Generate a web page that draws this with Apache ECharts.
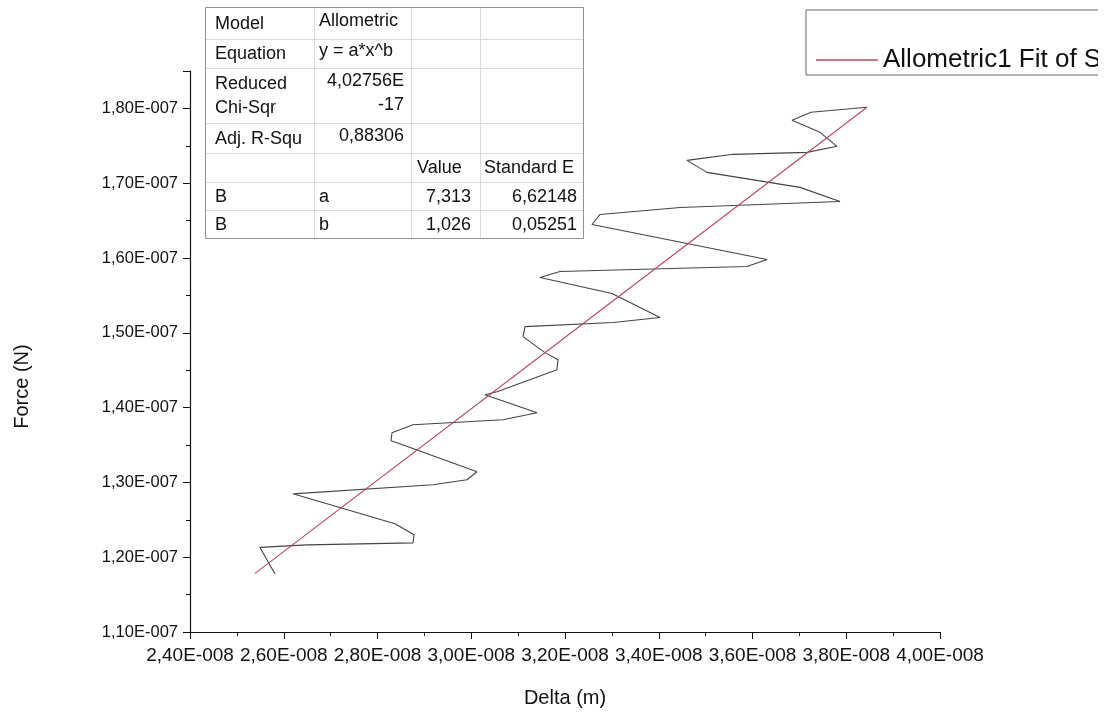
<!DOCTYPE html>
<html>
<head>
<meta charset="utf-8">
<script src="https://cdn.jsdelivr.net/npm/echarts@6/dist/echarts.min.js"></script>
<style>
html,body{margin:0;padding:0;background:#fff;}
#c{width:1107px;height:716px;}
</style>
</head>
<body>
<div id="c"></div>
<script>
// ---- data ----
const deltaM = [2.5813e-8,2.5493e-8,2.6496e-8,2.8757e-8,2.8779e-8,2.8373e-8,2.6197e-8,2.9184e-8,2.9909e-8,3.0123e-8,
  2.8416e-8,2.8288e-8,2.8309e-8,2.8757e-8,3.0677e-8,3.1403e-8,3.0293e-8,3.0549e-8,3.1829e-8,3.1851e-8,
  3.1573e-8,3.1104e-8,3.1147e-8,3.3024e-8,3.4027e-8,3.3003e-8,3.1467e-8,3.1893e-8,3.5883e-8,3.6309e-8,
  3.2576e-8,3.2747e-8,3.4453e-8,3.7867e-8,3.7013e-8,3.5029e-8,3.4603e-8,3.5584e-8,3.7163e-8,3.7803e-8,
  3.7440e-8,3.6843e-8,3.7248e-8,3.8443e-8];
const forceN = [1.1776e-7,1.2131e-7,1.2165e-7,1.2191e-7,1.2299e-7,1.2446e-7,1.2847e-7,1.2968e-7,1.3035e-7,1.3142e-7,
  1.3530e-7,1.3557e-7,1.3664e-7,1.3771e-7,1.3838e-7,1.3932e-7,1.4173e-7,1.4213e-7,1.4507e-7,1.4641e-7,
  1.4735e-7,1.4949e-7,1.5083e-7,1.5137e-7,1.5204e-7,1.5525e-7,1.5739e-7,1.5819e-7,1.5886e-7,1.5980e-7,
  1.6448e-7,1.6582e-7,1.6676e-7,1.6756e-7,1.6944e-7,1.7145e-7,1.7305e-7,1.7386e-7,1.7412e-7,1.7493e-7,
  1.7680e-7,1.7841e-7,1.7948e-7,1.8015e-7];
const fitDelta = [2.5387e-8, 3.19e-8, 3.8443e-8];
const fitForce = [1.1783e-7, 1.4890e-7, 1.8015e-7];
const fitName = 'Allometric1 Fit of Sheet1 B';

const xTickLabels = ['2,40E-008','2,60E-008','2,80E-008','3,00E-008','3,20E-008','3,40E-008','3,60E-008','3,80E-008','4,00E-008'];
const yTickLabels = ['1,10E-007','1,20E-007','1,30E-007','1,40E-007','1,50E-007','1,60E-007','1,70E-007','1,80E-007'];
const xMin = 2.4e-8, xMax = 4.0e-8, xStep = 2e-9;
const yMin = 1.1e-7, yMax = 1.85e-7, yStep = 1e-8;

const tableRows = [
  ['Model','Allometric','',''],
  ['Equation','y = a*x^b','',''],
  ['Reduced\nChi-Sqr','4,02756E\n-17','',''],
  ['Adj. R-Squ','0,88306','',''],
  ['','','Value','Standard E'],
  ['B','a','7,313','6,62148'],
  ['B','b','1,026','0,05251']
];

// ---- chart ----
const chart = echarts.init(document.getElementById('c'), null, {renderer:'canvas'});
const FONT = 'Liberation Sans, Arial, sans-serif';

function lab(arr, min, step){
  return function(v){
    const i = Math.round((v - min)/step);
    if (Math.abs(v - (min + i*step)) > step*1e-3) return '';
    return arr[i] || '';
  };
}

// table graphics
const colX = [205, 314, 411, 480, 583];
const rowY = [7, 39, 68, 123, 153, 182, 210, 238];
const g = [];
g.push({type:'rect', shape:{x:colX[0]+0.5, y:rowY[0]+0.5, width:colX[4]-colX[0], height:rowY[7]-rowY[0]},
  style:{fill:'#fff', stroke:'#909090', lineWidth:1}, z:50});
for (let i=1;i<rowY.length-1;i++){
  g.push({type:'line', shape:{x1:colX[0]+1,y1:rowY[i]+0.5,x2:colX[4],y2:rowY[i]+0.5}, style:{stroke:'#dcdcdc',lineWidth:1}, z:51});
}
for (let j=1;j<colX.length-1;j++){
  g.push({type:'line', shape:{x1:colX[j]+0.5,y1:rowY[0]+1,x2:colX[j]+0.5,y2:rowY[7]}, style:{stroke:'#dcdcdc',lineWidth:1}, z:51});
}
tableRows.forEach((row, r)=>{
  const yc = (rowY[r]+rowY[r+1])/2;
  row.forEach((txt, c)=>{
    if (!txt) return;
    let align = 'left', x = colX[c] + (c===0 ? 10 : 5), dy = 1;
    if (c===1 && r<=3) dy = -2;
    if (c===1 && r>=2 && r<=3) { align='right'; x = colX[2]-7; }
    if (c===2) { if (r===4){align='left'; x=colX[2]+6;} else {align='right'; x=colX[3]-9;} }
    if (c===3) { if (r===4){align='left'; x=colX[3]+4;} else {align='right'; x=colX[4]-6;} }
    g.push({type:'text', x:x, y:yc + dy, z:52,
      style:{text:txt, fill:'#111', font:'18px '+FONT, align:align, verticalAlign:'middle', lineHeight:24}});
  });
});
// clip the right edge of the legend box like the reference
g.push({type:'rect', shape:{x:1098, y:0, width:20, height:90}, style:{fill:'#fff'}, z:100});

const option = {
  backgroundColor:'#fff',
  animation:false,
  textStyle:{fontFamily:FONT},
  grid:{left:190, right:167, top:71, bottom:84, containLabel:false, outerBoundsMode:'none'},
  legend:{
    data:[fitName], left:806, top:10, orient:'horizontal',
    padding:[37,40,2,10], borderColor:'#666', borderWidth:1, backgroundColor:'#fff',
    icon:'rect', itemWidth:62, itemHeight:1.5, itemGap:10,
    textStyle:{fontSize:26, lineHeight:26, color:'#111', fontFamily:FONT},
    selectedMode:false
  },
  xAxis:{
    type:'value', min:xMin, max:xMax, interval:xStep,
    name:'Delta (m)', nameLocation:'middle', nameGap:56,
    nameTextStyle:{fontSize:20, color:'#111', fontFamily:FONT},
    axisLine:{show:true, onZero:false, lineStyle:{color:'#111', width:1.2}},
    axisTick:{show:true, inside:false, length:7, lineStyle:{color:'#111'}},
    minorTick:{show:true, splitNumber:2, length:4, lineStyle:{color:'#111'}},
    splitLine:{show:false},
    axisLabel:{formatter:lab(xTickLabels,xMin,xStep), fontSize:19, color:'#111', margin:14, interval:0, hideOverlap:false, showMinLabel:true, showMaxLabel:true, fontFamily:FONT}
  },
  yAxis:{
    type:'value', min:yMin, max:yMax, interval:yStep,
    name:'Force (N)', nameLocation:'middle', nameGap:158, nameRotate:90,
    nameTextStyle:{fontSize:20, color:'#111', fontFamily:FONT, padding:[0,70,0,0]},
    axisLine:{show:true, onZero:false, lineStyle:{color:'#111', width:1.2}},
    axisTick:{show:true, inside:false, length:7, lineStyle:{color:'#111'}},
    minorTick:{show:true, splitNumber:2, length:4, lineStyle:{color:'#111'}},
    splitLine:{show:false},
    axisLabel:{formatter:lab(yTickLabels,yMin,yStep), fontSize:16.5, color:'#111', margin:12, showMaxLabel:false, fontFamily:FONT}
  },
  series:[
    {type:'line', name:'Sheet1 B', data:deltaM.map((x,i)=>[x, forceN[i]]), symbol:'none', showSymbol:false,
      lineStyle:{color:'#444', width:1.1}, itemStyle:{color:'#444'}, z:2, clip:false},
    {type:'line', name:fitName, data:fitDelta.map((x,i)=>[x, fitForce[i]]), symbol:'none', showSymbol:false,
      lineStyle:{color:'#b8485e', width:1.1}, itemStyle:{color:'#b8485e'}, z:3, clip:false}
  ],
  graphic:{elements:g}
};
chart.setOption(option);
</script>
</body>
</html>
